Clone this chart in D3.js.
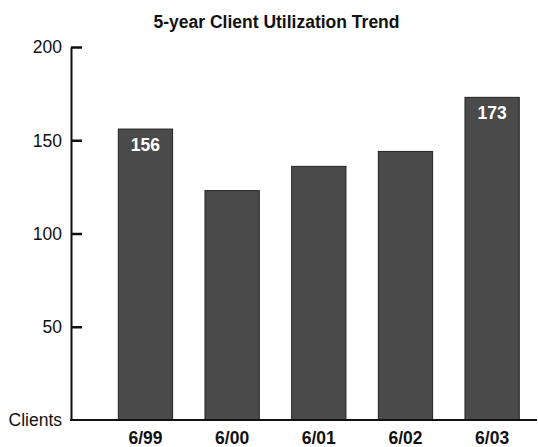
<!DOCTYPE html>
<html>
<head>
<meta charset="utf-8">
<script src="https://cdn.jsdelivr.net/npm/d3@7"></script>
<style>
  html, body { margin: 0; padding: 0; background: #fff; }
  svg { display: block; font-family: "Liberation Sans", Arial, Helvetica, sans-serif; }
</style>
</head>
<body>
<svg id="chart" width="538" height="447"></svg>
<script>
const title = "5-year Client Utilization Trend";
const categories = ["6/99", "6/00", "6/01", "6/02", "6/03"];
const clients = [156, 123, 136, 144, 173];
const labeledCategories = ["6/99", "6/03"];
const yTickValues = [0, 50, 100, 150, 200];
const yTickLabels = ["Clients", "50", "100", "150", "200"];

const svg = d3.select("#chart");

const y = d3.scaleLinear().domain([0, 200]).range([420, 47]);
const x = d3.scaleBand()
  .domain(categories)
  .range([71, 566.6])
  .paddingInner(0.3735)
  .paddingOuter(0.546);

// Title
svg.append("text")
  .attr("x", 276.5).attr("y", 28)
  .attr("text-anchor", "middle")
  .attr("font-weight", "bold")
  .attr("font-size", "17.5px")
  .attr("fill", "#111")
  .text(title);

// Bars
svg.append("g").selectAll("rect")
  .data(categories)
  .join("rect")
  .attr("x", d => x(d))
  .attr("y", (d, i) => y(clients[i]))
  .attr("width", x.bandwidth())
  .attr("height", (d, i) => y(0) - y(clients[i]))
  .attr("fill", "#4a4a4a")
  .attr("stroke", "#222")
  .attr("stroke-width", 1);

// Value labels
svg.append("g").selectAll("text")
  .data(categories.filter(c => labeledCategories.includes(c)))
  .join("text")
  .attr("x", d => x(d) + x.bandwidth() / 2)
  .attr("y", d => y(clients[categories.indexOf(d)]) + 22)
  .attr("text-anchor", "middle")
  .attr("font-weight", "bold")
  .attr("font-size", "17.5px")
  .attr("fill", "#fff")
  .text(d => clients[categories.indexOf(d)]);

// Y axis
const yAxis = d3.axisRight(y)
  .tickValues(yTickValues)
  .tickFormat((d, i) => "")
  .tickSize(11)
  .tickSizeOuter(0);
const gy = svg.append("g").attr("transform", "translate(71,0)").call(yAxis);
gy.select(".domain").attr("stroke", "#111").attr("stroke-width", 2);
gy.selectAll(".tick line").attr("stroke", "#111").attr("stroke-width", 2.5);
gy.selectAll(".tick").filter(d => d === 0).select("line").remove();

// Y tick labels (left of axis)
svg.append("g").selectAll("text")
  .data(yTickValues)
  .join("text")
  .attr("x", 62)
  .attr("y", d => y(d))
  .attr("dy", "0.36em")
  .attr("text-anchor", "end")
  .attr("font-size", "17.5px")
  .attr("fill", "#111")
  .text((d, i) => yTickLabels[i]);

// X axis baseline
const xAxis = d3.axisBottom(x).tickSize(0).tickSizeOuter(0);
const gx = svg.append("g").attr("transform", "translate(0,420)").call(xAxis);
gx.select(".domain").remove();
svg.append("line")
  .attr("x1", 70).attr("x2", 537)
  .attr("y1", y(0)).attr("y2", y(0))
  .attr("stroke", "#111").attr("stroke-width", 2);
gx.selectAll(".tick text")
  .attr("y", 24)
  .attr("dy", 0)
  .attr("font-family", "'Liberation Sans', Arial, sans-serif")
  .attr("font-weight", "bold")
  .attr("font-size", "17.5px")
  .attr("fill", "#111");
</script>
</body>
</html>
